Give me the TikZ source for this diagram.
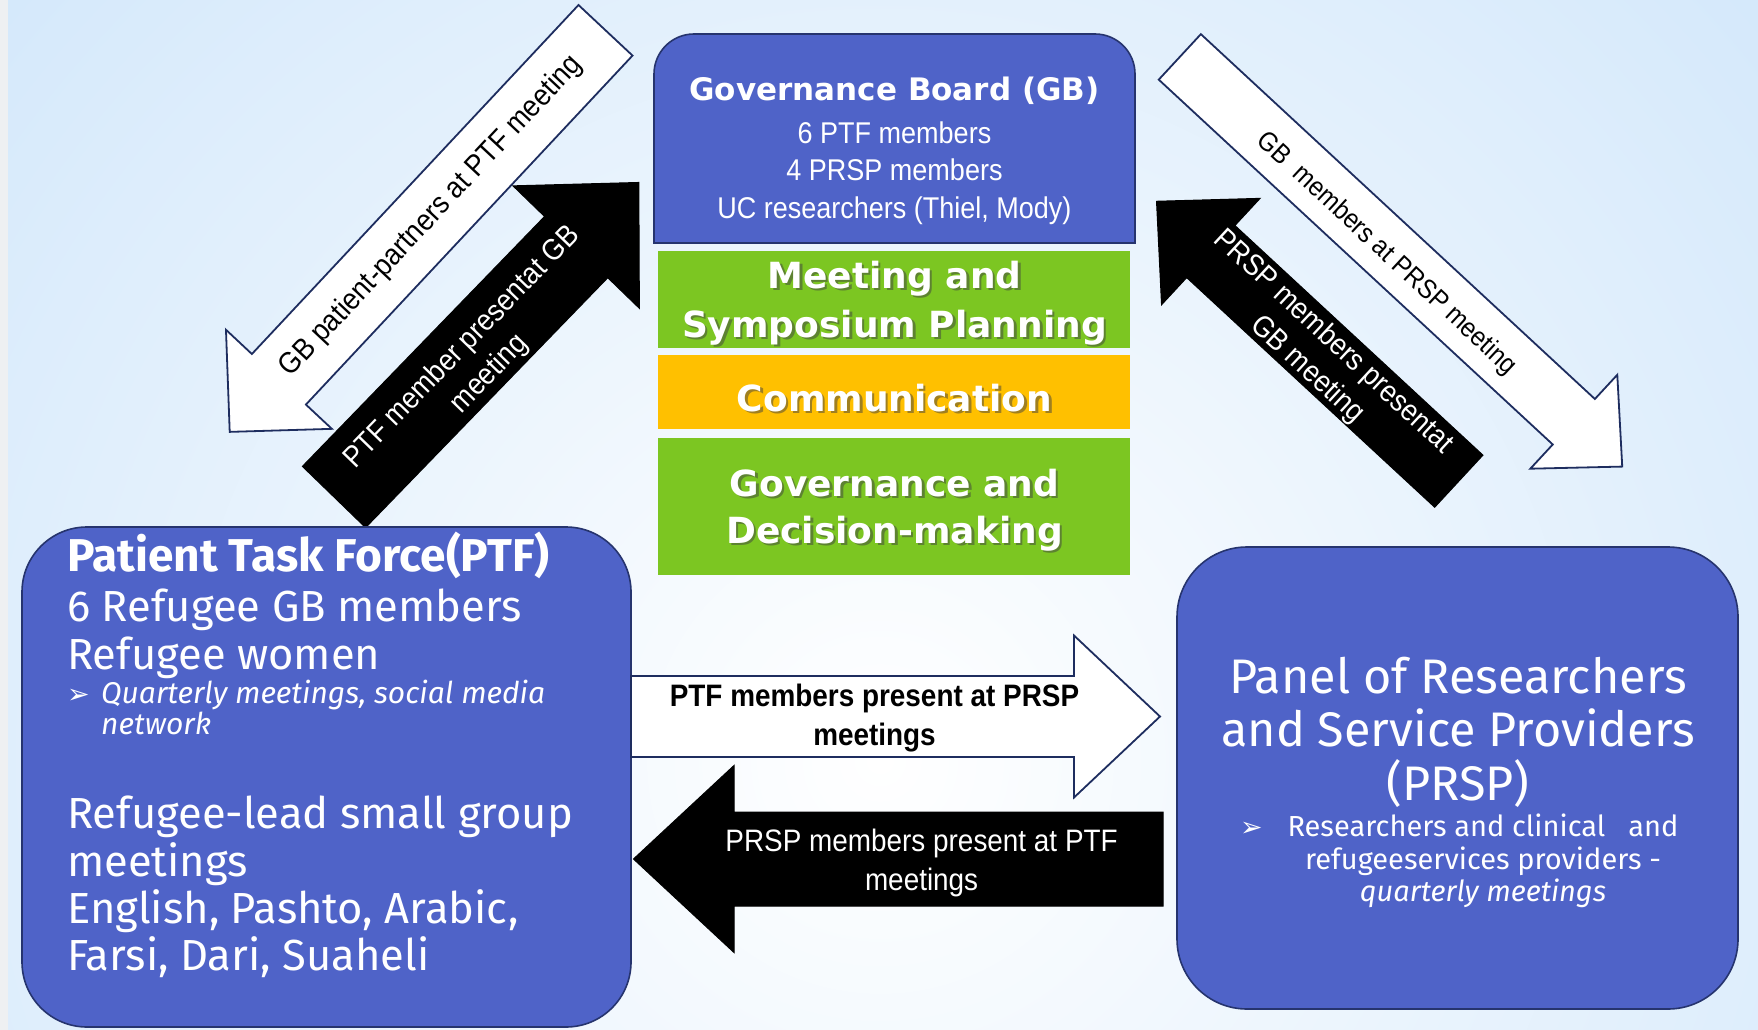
\documentclass[tikz,border=0pt]{standalone}
\usepackage{fontspec}
\setmainfont{Fira Sans}
\newfontfamily\arialn[FakeStretch=0.9]{Liberation Sans}
\newfontfamily\verd{DejaVu Sans}
\newfontfamily\corb{Fira Sans}
\newfontfamily\dingfont{DejaVu Sans}
\usetikzlibrary{calc}
\definecolor{bgblue}{RGB}{204,228,250}
\definecolor{stripc}{RGB}{238,240,242}
\definecolor{boxblue}{RGB}{79,99,200}
\definecolor{navy}{RGB}{38,52,110}
\definecolor{boxgreen}{RGB}{124,198,34}
\definecolor{boxorange}{RGB}{255,192,0}
\definecolor{arrowline}{RGB}{30,45,95}
\newcommand{\fsz}[2]{\fontsize{#1}{#2}\selectfont}
\newcommand{\barrow}[8]{%
  \begin{scope}[shift={(#2,#3)},rotate=#4]
    \path[#1] (0,{-(#6)/2}) -- ({#5-#8},{-(#6)/2}) -- ({#5-#8},{-(#7)/2}) -- (#5,0)
      -- ({#5-#8},{(#7)/2}) -- ({#5-#8},{(#6)/2}) -- (0,{(#6)/2}) -- cycle;
  \end{scope}}
\newcommand{\shtext}[4]{%
  \node[boxtxt, text=black!75, opacity=0.5] (#1s) at ($(#2,#3)+(2.5,2.5)$) {#4};
  \node[boxtxt] (#1) at (#2,#3) {#4};}
\tikzset{
  bluebox/.style={fill=boxblue, draw=navy, line width=1.6pt},
  whitearrow/.style={fill=white, draw=arrowline, line width=1.8pt, line join=miter},
  blackarrow/.style={fill=black, draw=black, line width=1pt, line join=miter},
  gbtitle/.style={text=white, anchor=base, inner sep=0, font=\verd\bfseries\fsz{31}{37}},
  gbline/.style={text=white, anchor=base, inner sep=0, font=\arialn\fsz{30}{36}},
  boxtxt/.style={text=white, anchor=base, inner sep=0, font=\verd\bfseries\fsz{36}{44}},
  ptfbig/.style={text=white, anchor=base west, inner sep=0, font=\corb\fsz{43.5}{48}},
  ptfsmall/.style={text=white, anchor=base west, inner sep=0, font=\corb\itshape\fsz{30}{34}},
  prspbig/.style={text=white, anchor=base, inner sep=0, font=\corb\fsz{48.5}{53}},
  prspsmall/.style={text=white, anchor=base, inner sep=0, font=\corb\fsz{29}{32}},
  ding/.style={text=white, anchor=base west, inner sep=0, font=\dingfont\fsz{27}{30}},
  arrtxt/.style={inner sep=0, align=center, font=\arialn\fsz{30}{38}},
}
\begin{document}
\begin{tikzpicture}[x=1pt,y=-1pt]
\useasboundingbox (0,0) rectangle (1758,1030);
% background
\begin{scope}
\clip (0,0) rectangle (1758,1030);
\fill[bgblue] (0,0) rectangle (1758,1030);
\shade[inner color=white, outer color=bgblue] (880,760) circle[radius=1400];
\end{scope}
\fill[stripc] (0,0) rectangle (8,1030);

% diagonal arrows
\barrow{whitearrow}{605.5}{30.3}{226.9}{550}{74}{145}{72}
\barrow{blackarrow}{334}{497}{45.9}{438}{88}{176}{90}
\barrow{whitearrow}{1179.8}{56.9}{-42.8}{603}{62}{128}{66}
\barrow{blackarrow}{1458.8}{481.2}{137.2}{412}{71}{145}{74}
\node[arrtxt, text=black, rotate=46.9] (a1txt) at (431.3,216.5) {GB patient-partners at PTF meeting};
\node[arrtxt, text=white, rotate=45.9] (a2txt) at (476,361) {PTF member presentat GB\\meeting};
\node[arrtxt, text=black, rotate=-42.8, font=\arialn\fsz{27}{34}] (a3txt) at (1386.4,253.9) {GB\ \ members at PRSP meeting};
\node[arrtxt, text=white, rotate=-42.8] (a4txt) at (1320,356) {PRSP members presentat\\GB meeting};

% Governance board
\path[bluebox] (654,243) -- (654,150) [rounded corners=40] -- (654,34) -- (1135,34) -- (1135,150) [sharp corners] -- (1135,243) -- cycle;
\node[gbtitle] (gbt) at (894.5,101) {Governance Board (GB)};
\node[gbline] (gb1) at (894.5,143) {6 PTF members};
\node[gbline] (gb2) at (894.5,180) {4 PRSP members};
\node[gbline] (gb3) at (894.5,218) {UC researchers (Thiel, Mody)};

% function boxes
\fill[boxgreen] (658,251) rectangle (1130,348);
\fill[boxorange] (658,355) rectangle (1130,429);
\fill[boxgreen] (658,438) rectangle (1130,575);
\shtext{msp1}{894.5}{288}{Meeting and}
\shtext{msp2}{894.5}{337}{Symposium Planning}
\shtext{comm}{894.5}{411}{Communication}
\shtext{gdm1}{894.5}{496}{Governance and}
\shtext{gdm2}{894.5}{543}{Decision-making}

% PTF box
\path[bluebox, rounded corners=65] (22,527) rectangle (631,1027);
\node[ptfbig, font=\corb\bfseries\fsz{46}{50}] (ptf0) at (67,571) {Patient Task Force(PTF)};
\node[ptfbig] (ptf1) at (67,621) {6 Refugee GB members};
\node[ptfbig] (ptf2) at (67,669) {Refugee women};
\node[ding] (ptfd) at (67,703) {➢};
\node[ptfsmall] (ptf3) at (101,703) {Quarterly meetings, social media};
\node[ptfsmall] (ptf4) at (101,734) {network};
\node[ptfbig] (ptf5) at (67,828) {Refugee-lead small group};
\node[ptfbig] (ptf6) at (67,876) {meetings};
\node[ptfbig] (ptf7) at (67,923) {English, Pashto, Arabic,};
\node[ptfbig] (ptf8) at (67,970) {Farsi, Dari, Suaheli};

% PRSP box
\path[bluebox, rounded corners=70] (1177,547) rectangle (1738,1009);
\node[prspbig] (pr1) at (1458,693) {Panel of Researchers};
\node[prspbig] (pr2) at (1458,746) {and Service Providers};
\node[prspbig] (pr3) at (1458,800) {(PRSP)};
\node[ding] (prd) at (1240,836) {➢};
\node[prspsmall] (pr4) at (1483,836) {Researchers and clinical \ \ and};
\node[prspsmall] (pr5) at (1483,869) {refugeeservices providers -};
\node[prspsmall, font=\corb\itshape\fsz{29}{32}] (pr6) at (1483,901) {quarterly meetings};

% horizontal arrows
\barrow{whitearrow}{631}{716.5}{0}{529}{81}{162}{86}
\barrow{blackarrow}{1163}{859}{180}{529.5}{94}{187}{100.5}
\node[arrtxt, text=black, font=\arialn\bfseries\fsz{31}{39}] (h1txt) at (874.5,718) {PTF members present at PRSP\\meetings};
\node[arrtxt, text=white, font=\arialn\fsz{31}{39}] (h2txt) at (921.6,862.5) {PRSP members present at PTF\\meetings};
\end{tikzpicture}
\end{document}
